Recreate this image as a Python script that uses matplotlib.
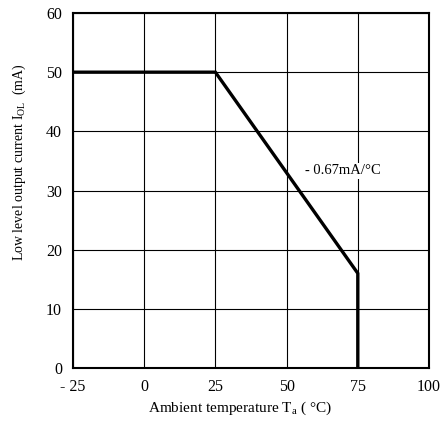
import matplotlib.pyplot as plt

# derating curve
temp = [-25, 25, 75, 75]
current = [50, 50, 16, 0]

xticks = [-25, 0, 25, 50, 75, 100]
xtick_labels = ["- 25", "0", "25", "50", "75", "100"]
yticks = [0, 10, 20, 30, 40, 50, 60]

plt.rcParams['font.family'] = ['Liberation Serif', 'DejaVu Serif']

fig = plt.figure(figsize=(4.44, 4.28), dpi=100)
ax = fig.add_axes([0.1644, 0.1402, 0.8018, 0.8294])

ax.plot(temp, current, color='black', lw=2.4, solid_joinstyle='miter')

ax.set_xlim(-25, 100)
ax.set_ylim(0, 60)
ax.set_xticks(xticks)
ax.set_xticklabels(xtick_labels)
ax.set_yticks(yticks)
ax.grid(True, color='black', lw=0.8)
ax.tick_params(length=0, labelsize=11.5, pad=8)
for s in ax.spines.values():
    s.set_linewidth(1.5)

ax.text(56.5, 33.3, "- 0.67mA/°C", fontsize=10.5, va='center', ha='left',
        bbox=dict(facecolor='white', edgecolor='none', pad=1))

ax.set_xlabel(r"Ambient temperature T$_\mathregular{a}$ ( °C)", fontsize=11)
ax.set_ylabel(r"Low level output current I$_\mathregular{OL}$  (mA)", fontsize=10)
ax.xaxis.set_label_coords(0.47, -0.09)
ax.yaxis.set_label_coords(-0.125, 0.58)

fig.savefig("out.png", dpi=100)
